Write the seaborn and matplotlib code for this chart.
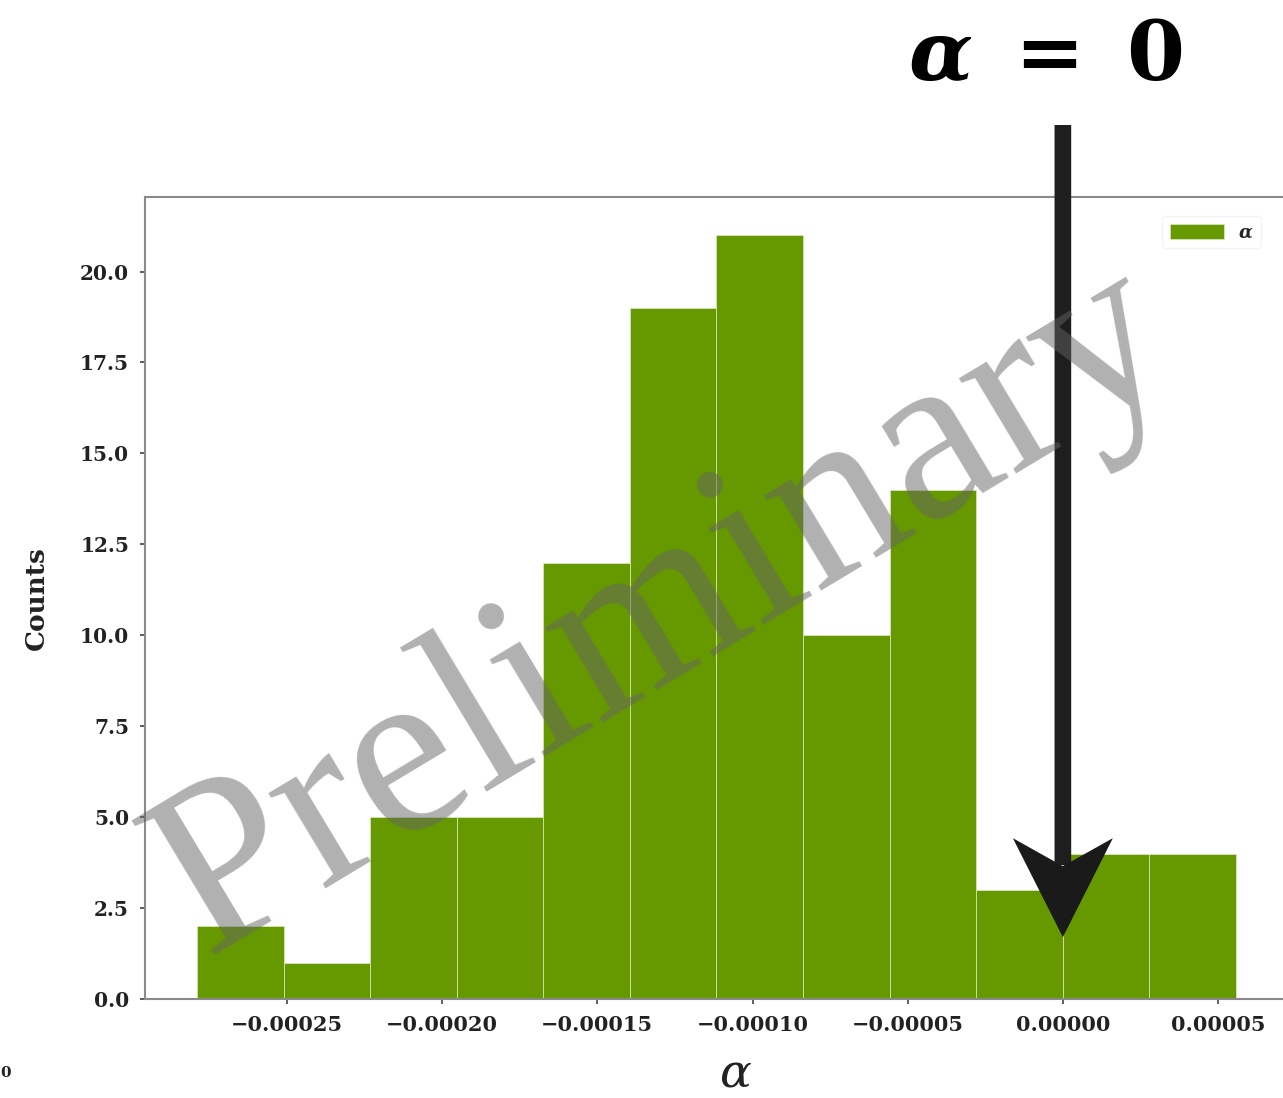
import numpy as np
import pandas as pd
import matplotlib
matplotlib.use("Agg")
import matplotlib.pyplot as plt
from matplotlib.patches import Polygon
from matplotlib.transforms import IdentityTransform
import seaborn as sns

# Histogram of the fitted alpha values: 12 equal-width bins
bin_low = -0.000279
bin_high = 0.0000558
n_bins = 12
bin_counts = [2, 1, 5, 5, 12, 19, 21, 10, 14, 3, 4, 4]
x_ticks = [-0.00025, -0.00020, -0.00015, -0.00010, -0.00005, 0.00000, 0.00005]
y_ticks = [0.0, 2.5, 5.0, 7.5, 10.0, 12.5, 15.0, 17.5, 20.0]
marker_alpha = 0.0

edges = np.linspace(bin_low, bin_high, n_bins + 1)
centers = 0.5 * (edges[:-1] + edges[1:])
df = pd.DataFrame({"alpha": centers, "count": bin_counts})

sns.set_style("white")
plt.rcParams["font.family"] = ["DejaVu Serif"]
plt.rcParams["font.weight"] = "bold"
plt.rcParams["mathtext.fontset"] = "custom"
plt.rcParams["mathtext.rm"] = "DejaVu Serif:bold"
plt.rcParams["mathtext.bf"] = "DejaVu Serif:bold"
plt.rcParams["mathtext.it"] = "DejaVu Serif:italic:bold"

W, H = 1283, 1098
fig = plt.figure(figsize=(W / 100, H / 100), dpi=100)
ax = fig.add_axes([145 / W, 99 / H, 1143 / W, 802 / H])

green = "#669900"
sns.histplot(data=df, x="alpha", weights="count", bins=n_bins,
             binrange=(bin_low, bin_high), color=green, alpha=1.0,
             edgecolor="#dfe9c8", linewidth=0.5, label=r"$\alpha$", ax=ax)

ax.set_xticks(x_ticks)
ax.set_xticklabels([f"{v:.5f}".replace("-", "\u2212") for v in x_ticks])
ax.set_yticks(y_ticks)
ax.set_yticklabels([f"{v:.1f}" for v in y_ticks])
ax.tick_params(axis="both", length=3.5, width=1.2,
               color="#444444", pad=8, direction="out")
ax.tick_params(axis="x", labelsize=15)
ax.tick_params(axis="y", labelsize=14.5)
ax.tick_params(left=True, bottom=True)
for lab in ax.get_xticklabels() + ax.get_yticklabels():
    lab.set_fontweight("bold")
    lab.set_color("#222222")

for s in ax.spines.values():
    s.set_color("#8a8a8a")
    s.set_linewidth(1.5)

ax.set_ylabel("Counts", fontsize=19, fontweight="bold", color="#222222")
ax.yaxis.set_label_coords(-0.084, 0.5)

xl = ax.set_xlabel("\u03b1", fontsize=34, fontstyle="italic",
                   fontweight="normal", color="#222222")
xl.set_verticalalignment("bottom")
ax.xaxis.set_label_coords((735 - 145) / 1143, (999 - 1097) / 802)

leg = ax.legend(loc="upper right", fontsize=13, handlelength=3.0,
                handleheight=0.9, frameon=True, framealpha=1.0,
                edgecolor="#f4f4f4", borderaxespad=0.5,
                bbox_to_anchor=(1 - 18 / 1143, 1 - 10 / 802))

# Watermark across the plot
fig.text(665 / W, 1 - 612 / H, "Preliminary", family="Liberation Serif",
         fontweight="normal", fontsize=174, color="#646464", alpha=0.5,
         rotation=31.0, ha="center", va="center", rotation_mode="anchor",
         zorder=5)

# Annotation above the bars
fig.text(1045 / W, 1 - 80 / H, r"$\alpha\;=\;0$", fontsize=60,
         ha="center", va="baseline", color="black")

# Arrow pointing at alpha = 0
fig.canvas.draw()
x0, y_tip = ax.transData.transform((marker_alpha, 1.7))
ax.annotate("", xy=(marker_alpha, 1.7 + 72 / 36.35), xycoords="data",
            xytext=(marker_alpha, 1 - 125 / H),
            textcoords=("data", "figure fraction"),
            arrowprops=dict(arrowstyle="-", lw=12, color="#1e1e1e",
                            shrinkA=0, shrinkB=0, capstyle="butt"),
            annotation_clip=False, zorder=6)
head = Polygon([(x0, y_tip), (x0 - 50, y_tip + 99), (x0, y_tip + 71),
                (x0 + 50, y_tip + 99)], closed=True, facecolor="#1a1a1a",
               edgecolor="none", transform=IdentityTransform(), zorder=7)
fig.patches.append(head)
head.set_figure(fig)

fig.text(0.0, 1 - 1077 / H, "0", fontsize=11, fontweight="bold",
         color="#222222", ha="left", va="baseline")

fig.savefig("out.png", dpi=100)
